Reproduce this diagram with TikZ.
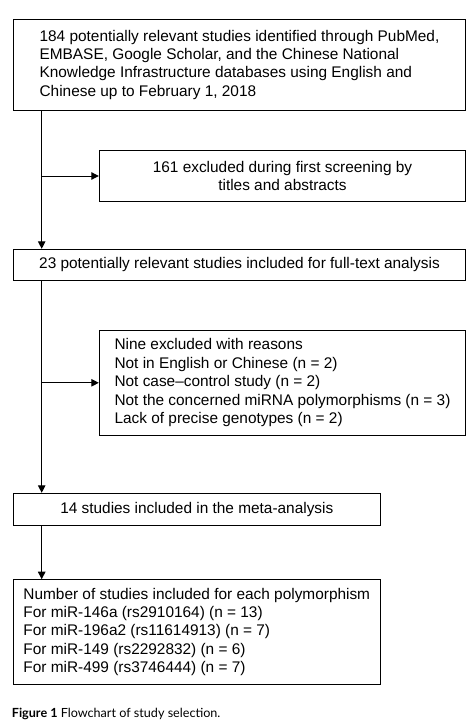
\documentclass[tikz,border=0pt]{standalone}
\usepackage{fontspec}
\setmainfont{Liberation Sans}
\newfontfamily\capfont{Lato}
\usetikzlibrary{arrows.meta}
\begin{document}
\begin{tikzpicture}[x=1pt,y=-1pt,
  box/.style={draw, line width=1pt, inner sep=0pt, font=\fontsize{15.4}{18.4}\selectfont},
  arr/.style={line width=1pt, -{Triangle[length=7.5pt,width=7.5pt]}}]
\useasboundingbox (0,0) rectangle (473,726);
\node[box, minimum width=452.4pt, minimum height=90.7pt, align=left] (b1) at (239.5,64.65)
 {184 potentially relevant studies identified through PubMed,\\
  EMBASE, Google Scholar, and the Chinese National\\
  Knowledge Infrastructure databases using English and\\
  Chinese up to February 1, 2018};
\node[box, minimum width=366.4pt, minimum height=50.6pt, align=center] (b2) at (282.5,176)
 {161 excluded during first screening by\\ titles and abstracts};
\node[box, minimum width=452.4pt, minimum height=31.4pt, align=center] (b3) at (239.5,265)
 {23 potentially relevant studies included for full-text analysis};
\node[box, minimum width=366.4pt, minimum height=105pt, align=left] (b4) at (282.5,382.8)
 {Nine excluded with reasons\\
  Not in English or Chinese (n = 2)\\
  Not case--control study (n = 2)\\
  Not the concerned miRNA polymorphisms (n = 3)\\
  Lack of precise genotypes (n = 2)};
\node[box, minimum width=367pt, minimum height=32pt, align=center] (b5) at (196.8,509.3)
 {14 studies included in the meta-analysis};
\node[box, minimum width=367pt, minimum height=104.6pt, align=left] (b6) at (196.8,632)
 {Number of studies included for each polymorphism\\
  For miR-146a (rs2910164) (n = 13)\\
  For miR-196a2 (rs11614913) (n = 7)\\
  For miR-149 (rs2292832) (n = 6)\\
  For miR-499 (rs3746444) (n = 7)};
\coordinate (vx) at (41.7,0);
\draw[arr] (b1.south -| vx) -- (b3.north -| vx);
\draw[arr] (vx |- b2.west) -- (b2.west);
\draw[arr] (b3.south -| vx) -- (b5.north -| vx);
\draw[arr] (vx |- b4.west) -- (b4.west);
\draw[arr] (b5.south -| vx) -- (b6.north -| vx);
\node[anchor=base west, inner sep=0pt, font=\capfont\fontsize{12.6}{14}\selectfont] (cap) at (11.7,717.5)
 {\textbf{Figure 1} Flowchart of study selection.};
\end{tikzpicture}
\end{document}
